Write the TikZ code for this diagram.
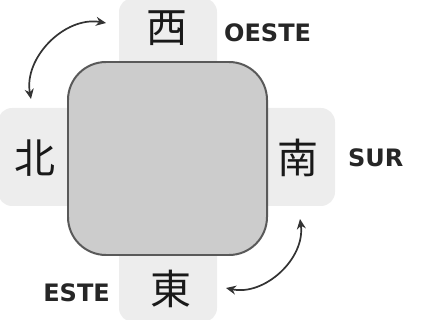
\documentclass[tikz,border=0pt]{standalone}
\usepackage{fontspec}
\newfontfamily\cjk{Noto Sans CJK JP}
\setsansfont{DejaVu Sans}
\usetikzlibrary{arrows.meta}
\tikzset{
  tab/.style={fill=black!7, rounded corners=14},
  glyph/.style={font=\cjk\fontsize{41}{41}\selectfont, text=black!90},
  wind/.style={font=\sffamily\bfseries\fontsize{24}{24}\selectfont, text=black!85, inner sep=0pt},
  turn/.style={{Stealth[length=10pt,width=9pt]}-{Stealth[length=10pt,width=9pt]}, line width=0.6mm, color=black!80},
}

\begin{document}
\begin{tikzpicture}[x=1pt,y=-1pt]
		%%%%% START %%%%%
		
		\useasboundingbox (0,0) rectangle (425,320);
		
		\fill[tab] (119,-2) rectangle (217,160);
		\fill[tab] (-2,108) rectangle (160,206);
		\fill[tab] (180,108) rectangle (335,206);
		\fill[tab] (119,160) rectangle (217,322);
		
		\draw[line width=0.7mm, color=black!65, fill=black!20, rounded corners=38] (68,62) rectangle (267,255);
		
		\node[glyph] (west) at (167,28) {西};
		\node[glyph] (north) at (35,158) {北};
		\node[glyph] (south) at (298,158) {南};
		\node[glyph] (east) at (171,289) {東};
		
		\node[wind, anchor=west] (oeste) at (224,33) {OESTE};
		\node[wind, anchor=west] (sur) at (348,158) {SUR};
		\node[wind, anchor=east] (este) at (110,293) {ESTE};
		
		\coordinate (tl1) at (106,23);
		\coordinate (tl2) at (31,99);
		\draw[turn] (tl1) to[bend right=55] (tl2);
		
		\coordinate (br1) at (226,288);
		\coordinate (br2) at (300,219);
		\draw[turn] (br1) to[bend right=55] (br2);
		
		%%%%% END %%%%%
\end{tikzpicture}
\end{document}
